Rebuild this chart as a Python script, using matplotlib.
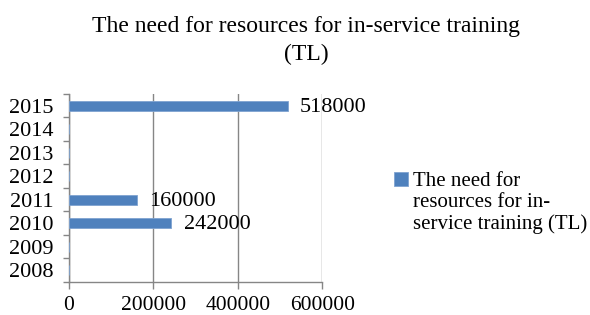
import matplotlib
matplotlib.use("Agg")
import matplotlib.pyplot as plt
from matplotlib.legend_handler import HandlerPatch
from matplotlib.patches import Rectangle
import numpy as np

years = ["2008", "2009", "2010", "2011", "2012", "2013", "2014", "2015"]
values = [0, 0, 242000, 160000, 0, 0, 0, 518000]
title = "The need for resources for in-service training\n(TL)"
series_name = "The need for\nresources for in-\nservice training (TL)"
xticks = [0, 200000, 400000, 600000]

plt.rcParams['font.family'] = ['Liberation Serif', 'DejaVu Serif']
plt.rcParams['font.size'] = 15.5

fig = plt.figure(figsize=(5.9, 3.15), dpi=100)
ax = fig.add_axes([0.117, 0.105, 0.429, 0.597])

bar_color = "#4F81BD"
grid_color = "#868686"
y = np.arange(len(years))
bars = ax.barh(y, values, height=0.43, color=bar_color, edgecolor="#7FA3D0",
               linewidth=0.6, label=series_name, zorder=3)

for yi, v in zip(y, values):
    if v > 0:
        ax.annotate(f"{v}", xy=(v, yi), xytext=(9, -1), textcoords="offset points",
                    ha="left", va="center", fontsize=16, zorder=4)

ax.set_xlim(0, 600000)
ax.set_ylim(-0.5, len(years) - 0.5)
ax.set_xticks(xticks)
ax.set_xticklabels([str(t) for t in xticks], fontsize=15.5)
ax.set_yticks(y)
ax.set_yticklabels(years, fontsize=16)
ax.set_yticks(np.arange(-0.5, len(years)), minor=True)
ax.tick_params(axis="y", which="major", length=0, pad=11)
ax.tick_params(axis="y", which="minor", length=4.5, color=grid_color, width=1)
ax.tick_params(axis="x", which="major", length=5, color=grid_color, width=1, pad=5)

ax.xaxis.grid(True, color=grid_color, linewidth=1, zorder=0)
for s in ["top", "right"]:
    ax.spines[s].set_visible(False)
for s in ["left", "bottom"]:
    ax.spines[s].set_color(grid_color)
    ax.spines[s].set_linewidth(1)

fig.text(0.519, 0.872, title, ha="center", va="center", fontsize=17, linespacing=1.4)


def top_square(legend, orig_handle, xdescent, ydescent, width, height, fontsize):
    return Rectangle((-xdescent, -ydescent + 1.12 * fontsize), width, height)


leg = fig.legend(handles=[bars.patches[-1]], labels=[series_name], loc="upper left",
                 bbox_to_anchor=(0.668, 0.455), frameon=False, fontsize=15,
                 handlelength=0.68, handleheight=0.68, handletextpad=0.25,
                 borderpad=0, labelspacing=0, borderaxespad=0,
                 handler_map={Rectangle: HandlerPatch(patch_func=top_square)})
for t in leg.get_texts():
    t.set_linespacing(1.15)

fig.savefig("out.png", dpi=100)
